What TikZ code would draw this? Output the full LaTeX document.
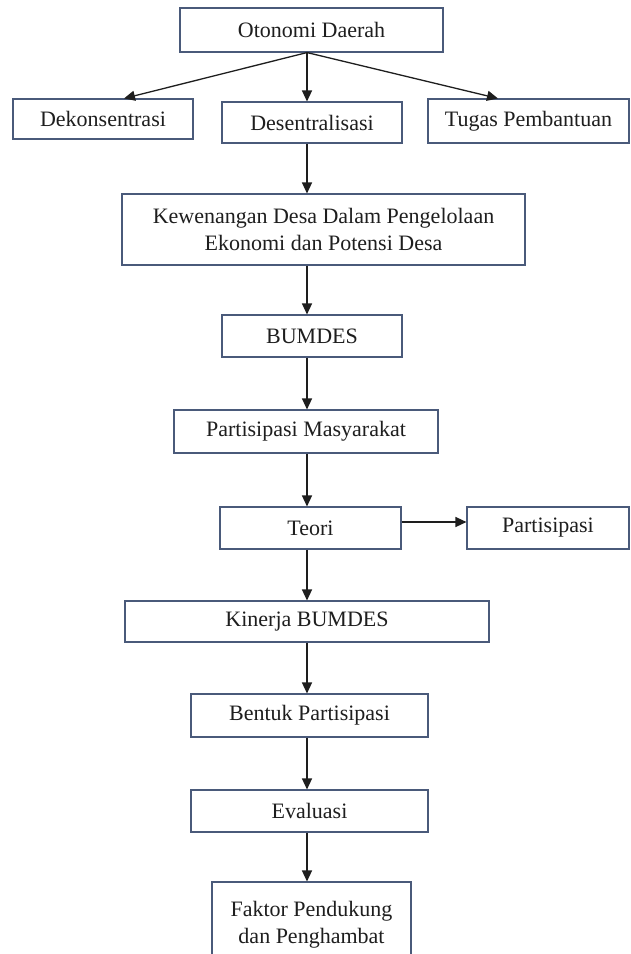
\documentclass[tikz,border=0pt]{standalone}
\usepackage{fontspec}
\setmainfont{Liberation Serif}
\usetikzlibrary{arrows.meta}
\definecolor{garisbox}{HTML}{4A5A7A}
\definecolor{teks}{HTML}{1E1E1E}
\tikzset{
    kotak/.style={draw=garisbox, line width=1.1pt, inner sep=0pt, align=center,
        text=teks, font=\fontsize{22}{27}\selectfont},
    panah/.style={-{Triangle[length=11pt,width=10pt]}, line width=1.3pt, draw=teks}
}
\begin{document}
\begin{tikzpicture}[x=1pt,y=-1pt]
    \useasboundingbox[fill=white] (0,0) rectangle (630,954);

    % bagian atas
    \node[kotak, minimum width=263pt, minimum height=44pt] (otonomi) at (311.5,30) {Otonomi Daerah};
    \node[kotak, minimum width=180pt, minimum height=40pt] (dekon) at (103,119) {Dekonsentrasi};
    \node[kotak, minimum width=180pt, minimum height=41pt] (desen) at (312,122.5) {Desentralisasi};
    \node[kotak, minimum width=201pt, minimum height=44pt] (tugas) at (528.5,121) {Tugas Pembantuan};

    % alur tengah
    \node[kotak, minimum width=403pt, minimum height=71pt] (kewenangan) at (323.5,229.5)
        {Kewenangan Desa Dalam Pengelolaan\\Ekonomi dan Potensi Desa};
    \node[kotak, minimum width=180pt, minimum height=42pt] (bumdes) at (312,336) {BUMDES};
    \node[kotak, minimum width=264pt, minimum height=43pt] (masyarakat) at (306,431.5) {Partisipasi Masyarakat};
    \node[kotak, minimum width=181pt, minimum height=42pt] (teori) at (310.5,528) {Teori};
    \node[kotak, minimum width=162pt, minimum height=42pt] (partisipasi) at (548,528) {Partisipasi};
    \node[kotak, minimum width=364pt, minimum height=41pt] (kinerja) at (307,621.5) {Kinerja BUMDES};
    \node[kotak, minimum width=237pt, minimum height=43pt] (bentuk) at (309.5,715.5) {Bentuk Partisipasi};
    \node[kotak, minimum width=237pt, minimum height=42pt] (evaluasi) at (309.5,811) {Evaluasi};
    \node[kotak, minimum width=199pt, minimum height=86pt] (faktor) at (311.5,925)
        {Faktor Pendukung\\dan Penghambat};

    \coordinate (tengah) at (307,0);
    \coordinate (kiri) at (124,0);
    \coordinate (kanan) at (498,0);

    \draw[panah] (otonomi.south -| tengah) -- (dekon.north -| kiri);
    \draw[panah] (otonomi.south -| tengah) -- (desen.north -| tengah);
    \draw[panah] (otonomi.south -| tengah) -- (tugas.north -| kanan);
    \draw[panah] (desen.south -| tengah) -- (kewenangan.north -| tengah);
    \draw[panah] (kewenangan.south -| tengah) -- (bumdes.north -| tengah);
    \draw[panah] (bumdes.south -| tengah) -- (masyarakat.north -| tengah);
    \draw[panah] (masyarakat.south -| tengah) -- (teori.north -| tengah);
    \draw[panah] ([yshift=6pt]teori.east) -- ([yshift=6pt]partisipasi.west);
    \draw[panah] (teori.south -| tengah) -- (kinerja.north -| tengah);
    \draw[panah] (kinerja.south -| tengah) -- (bentuk.north -| tengah);
    \draw[panah] (bentuk.south -| tengah) -- (evaluasi.north -| tengah);
    \draw[panah] (evaluasi.south -| tengah) -- (faktor.north -| tengah);
\end{tikzpicture}
\end{document}
